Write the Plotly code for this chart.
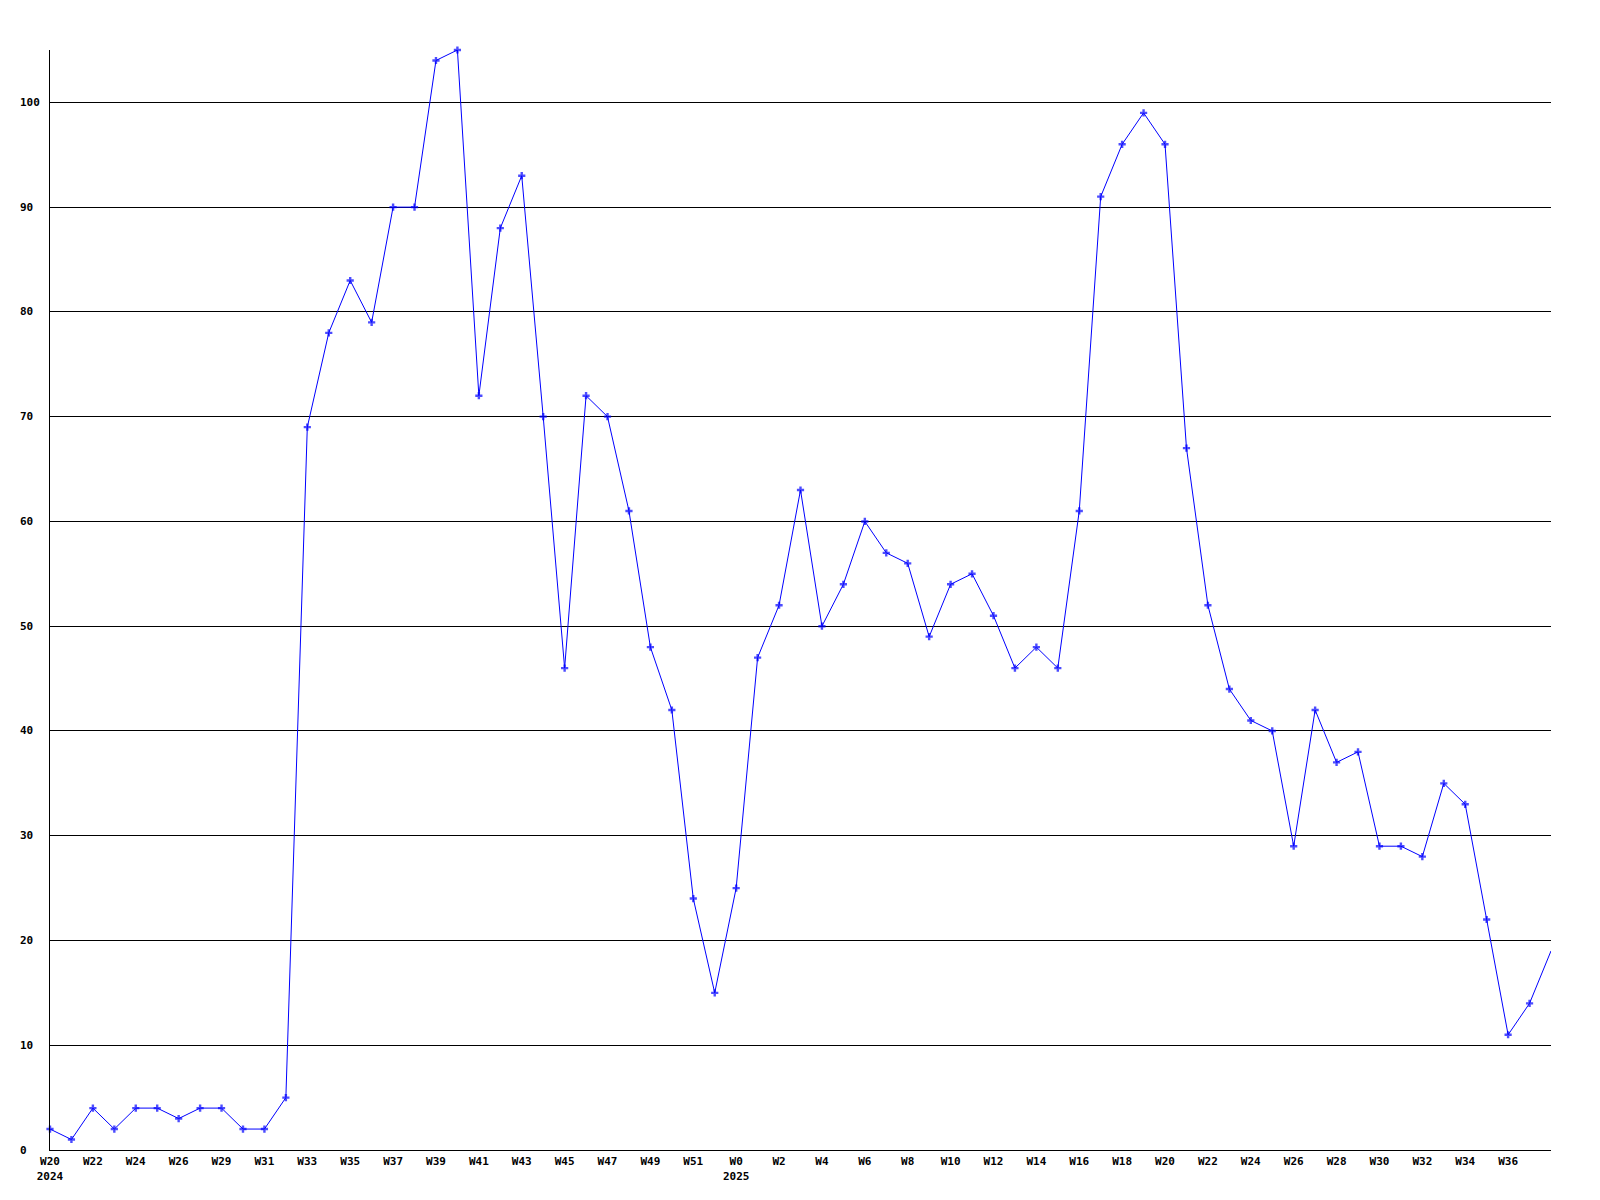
import plotly.graph_objects as go

weeks_2024 = ["W20", "W21", "W22", "W23", "W24", "W25", "W26", "W28"] + [f"W{w}" for w in range(29, 53)]
weeks_2025 = [f"W{w}" for w in range(0, 39)]
weeks = weeks_2024 + weeks_2025
years = {0: "2024", len(weeks_2024): "2025"}

values = [2, 1, 4, 2, 4, 4, 3, 4, 4, 2, 2, 5, 69, 78, 83, 79, 90, 90, 104, 105,
          72, 88, 93, 70, 46, 72, 70, 61, 48, 42, 24, 15, 25, 47, 52, 63, 50, 54,
          60, 57, 56, 49, 54, 55, 51, 46, 48, 46, 61, 91, 96, 99, 96, 67, 52, 44,
          41, 40, 29, 42, 37, 38, 29, 29, 28, 35, 33, 22, 11, 14, 19]

y_ticks = list(range(0, 101, 10))

x = list(range(len(values)))
tickvals = x[0:len(values) - 1:2]
ticktext = [weeks[i] + ("<br>" + years[i] if i in years else "") for i in tickvals]
sizes = [6] * (len(values) - 1) + [0]

font = dict(family="DejaVu Sans Mono", size=11, color="black", weight="bold")

fig = go.Figure()
fig.add_trace(go.Scatter(
    x=x, y=values, mode="lines+markers",
    line=dict(color="#0000ff", width=1),
    marker=dict(symbol="cross", size=sizes, color="#0000ff", line=dict(width=0)),
    cliponaxis=False, showlegend=False, hoverinfo="skip",
))

annotations = [dict(x=0, xref="paper", y=v, yref="y", text=str(v), showarrow=False,
                    xanchor="left", yanchor="middle", xshift=-32, font=font)
               for v in y_ticks]

fig.update_layout(
    width=1600, height=1200,
    margin=dict(l=42, r=57, t=42, b=58),
    paper_bgcolor="white", plot_bgcolor="white",
    annotations=annotations,
    xaxis=dict(range=[0, len(values) - 1], tickvals=tickvals, ticktext=ticktext,
               showgrid=False, zeroline=False, showline=True, linecolor="black",
               linewidth=1, ticks="", tickfont=font, ticklabelstandoff=1),
    yaxis=dict(range=[0, 105], tickvals=y_ticks, showticklabels=False,
               showgrid=True, gridcolor="black", gridwidth=1, zeroline=False,
               showline=True, linecolor="black", linewidth=1, ticks=""),
)

fig.write_html("out.html")
